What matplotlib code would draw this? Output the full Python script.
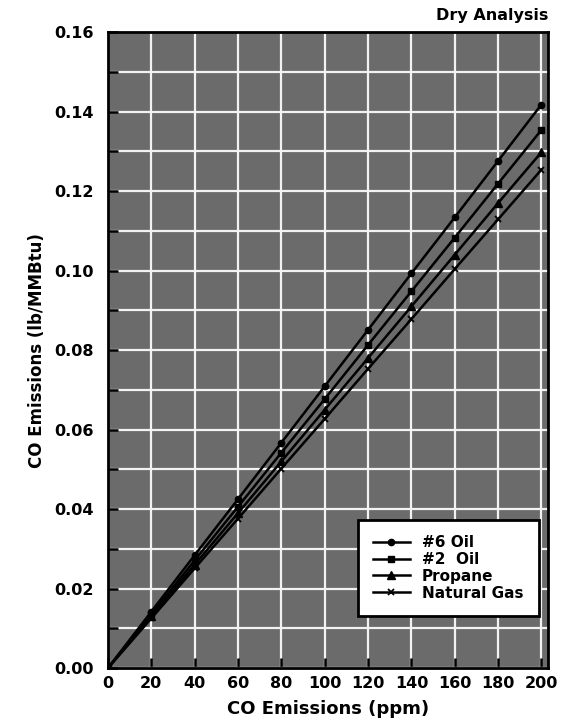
import matplotlib
matplotlib.use('Agg')
from matplotlib import pyplot as plt

# CO emissions, dry analysis
ppm = [0, 20, 40, 60, 80, 100, 120, 140, 160, 180, 200]
oil6 = [0, 0.0142, 0.0284, 0.0425, 0.0567, 0.0709, 0.0851, 0.0993, 0.1134, 0.1276, 0.1418]
oil2 = [0, 0.0135, 0.0271, 0.0406, 0.0542, 0.0677, 0.0813, 0.0948, 0.1083, 0.1219, 0.1354]
propane = [0, 0.0130, 0.0260, 0.0390, 0.0520, 0.0650, 0.0780, 0.0910, 0.1040, 0.1170, 0.1298]
natgas = [0, 0.0125, 0.0251, 0.0376, 0.0502, 0.0627, 0.0753, 0.0878, 0.1004, 0.1129, 0.1254]

xticks = [0, 20, 40, 60, 80, 100, 120, 140, 160, 180, 200]
yticks = [0.00, 0.02, 0.04, 0.06, 0.08, 0.10, 0.12, 0.14, 0.16]
yminor = [0.01, 0.03, 0.05, 0.07, 0.09, 0.11, 0.13, 0.15]

plt.rcParams['font.family'] = ['DejaVu Sans']
plt.rcParams['font.weight'] = 'bold'

fig = plt.figure(figsize=(5.64, 7.25), dpi=100)
ax = fig.add_axes([0.1915, 0.0786, 0.780, 0.877])
ax.set_facecolor('#6b6b6b')

ax.plot(ppm, oil6, color='black', lw=1.8, marker='o', ms=4.5, label='#6 Oil')
ax.plot(ppm, oil2, color='black', lw=1.8, marker='s', ms=4.5, label='#2  Oil')
ax.plot(ppm, propane, color='black', lw=1.8, marker='^', ms=5.5, label='Propane')
ax.plot(ppm, natgas, color='black', lw=1.8, marker='x', ms=5, mew=1.3, label='Natural Gas')

ax.set_xlim(0, 203)
ax.set_ylim(0, 0.16)
ax.set_xticks(xticks)
ax.set_xticklabels([str(t) for t in xticks])
ax.set_yticks(yticks)
ax.set_yticklabels(['%.2f' % t for t in yticks])
ax.set_yticks(yminor, minor=True)
ax.tick_params(axis='both', which='both', direction='in', length=7, width=1.8,
               labelsize=11.5, color='black')
ax.tick_params(axis='x', pad=6)
ax.tick_params(axis='y', pad=10)
for lbl in ax.get_xticklabels() + ax.get_yticklabels():
    lbl.set_fontweight('bold')

ax.grid(True, which='both', color='#f2f2f2', lw=1.6)
ax.set_axisbelow(True)
for s in ax.spines.values():
    s.set_linewidth(2)
    s.set_color('black')

ax.set_xlabel('CO Emissions (ppm)', fontsize=13, fontweight='bold', labelpad=6)
ax.set_ylabel('CO Emissions (lb/MMBtu)', fontsize=12, fontweight='bold', labelpad=6)
fig.text(0.972, 0.978, 'Dry Analysis', ha='right', va='center', fontsize=11.5,
         fontweight='bold')

leg = ax.legend(loc='lower right', bbox_to_anchor=(0.996, 0.07), frameon=True,
                fancybox=False, edgecolor='black', framealpha=1, fontsize=11,
                handlelength=2.4, borderpad=1.0, labelspacing=0.12)
leg.get_frame().set_linewidth(2)
for t in leg.get_texts():
    t.set_fontweight('bold')

fig.savefig('out.png', dpi=100)
